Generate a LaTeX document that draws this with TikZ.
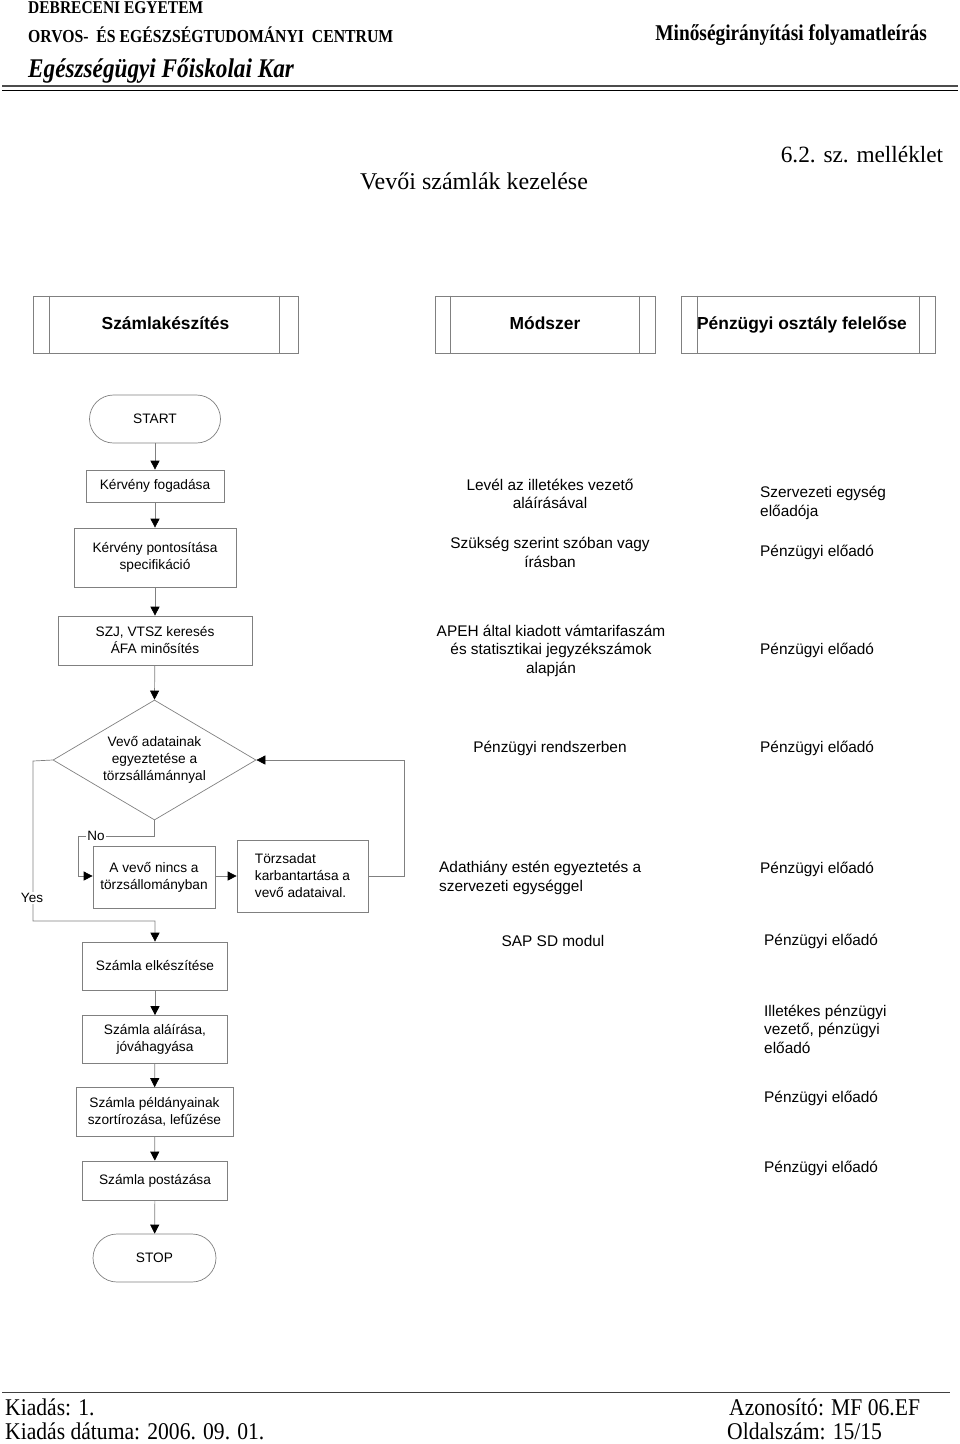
\documentclass[tikz,border=0pt]{standalone}
\usepackage{fontspec}
\setmainfont{Liberation Serif}
\setsansfont{Liberation Sans}
\newfontfamily\condserif[FakeStretch=0.86]{Liberation Serif}
\newfontfamily\footserif[FakeStretch=0.9]{Liberation Serif}
\usetikzlibrary{arrows.meta,shapes.geometric}
\definecolor{linegray}{RGB}{128,128,128}
\begin{document}
\begin{tikzpicture}[x=1pt,y=-1pt,
 box/.style={draw=linegray,line width=0.7pt,fill=white,font=\sffamily\fontsize{13.7}{17}\selectfont,align=center,inner sep=0pt},
 term/.style={box,rounded corners=24pt},
 txt/.style={font=\sffamily\fontsize{15.4}{18.5}\selectfont,align=center,inner sep=0pt},
 rtxt/.style={txt,anchor=west,align=left},
 hdr/.style={draw=linegray,line width=0.7pt,font=\sffamily\bfseries\fontsize{17.4}{20}\selectfont,inner sep=0pt,minimum height=57,text height=12.5pt,text depth=3.5pt},
 flow/.style={draw=linegray,line width=0.7pt,-{Triangle[width=9pt,length=9pt,color=black]}},
 conn/.style={draw=linegray,line width=0.7pt},
 lbl/.style={fill=white,inner sep=1pt,font=\sffamily\fontsize{13.5}{16}\selectfont},
 hd/.style={font=\condserif\bfseries\fontsize{18}{20}\selectfont,inner sep=0pt},
 ft/.style={font=\footserif\fontsize{24}{27}\selectfont,inner sep=0pt}
 ]
\useasboundingbox (0,0) rectangle (960,1444);

% page header
\node[hd,anchor=west] (h1) at (28,8) {DEBRECENI EGYETEM};
\node[hd,anchor=west,font=\condserif\bfseries\fontsize{18.3}{20}\selectfont] (h2) at (28,35) {ORVOS- \ ÉS EGÉSZSÉGTUDOMÁNYI \ CENTRUM};
\node[hd,anchor=east,font=\condserif\bfseries\fontsize{22.5}{24}\selectfont] (h3) at (927,35) {Minőségirányítási folyamatleírás};
\node[hd,anchor=west,font=\condserif\bfseries\itshape\fontsize{27}{30}\selectfont] (h4) at (28,71) {Egészségügyi Főiskolai Kar};
\draw[line width=1.6pt,black!70] (2,86) -- (958,86);
\draw[line width=0.8pt,black] (2,90) -- (958,90);

\node[inner sep=0pt,font=\fontsize{24}{28}\selectfont] (title) at (474,181) {Vevői számlák kezelése};
\node[inner sep=0pt,font=\fontsize{23.3}{28}\selectfont] (mell) at (862,155) {6.2. sz. melléklet};

% column headers
\node[hdr,minimum width=265] (c1) at (165.5,324.5) {Számlakészítés};
\draw[conn] ([xshift=17pt]c1.north west) -- ([xshift=17pt]c1.south west);
\draw[conn] ([xshift=-19pt]c1.north east) -- ([xshift=-19pt]c1.south east);
\node[hdr,minimum width=220] (c2) at (545,324.5) {Módszer};
\draw[conn] ([xshift=16pt]c2.north west) -- ([xshift=16pt]c2.south west);
\draw[conn] ([xshift=-16pt]c2.north east) -- ([xshift=-16pt]c2.south east);
\node[hdr,minimum width=254] (c3) at (808,324.5) {\hspace*{-12pt}Pénzügyi osztály felelőse};
\draw[conn] ([xshift=17pt]c3.north west) -- ([xshift=17pt]c3.south west);
\draw[conn] ([xshift=-16pt]c3.north east) -- ([xshift=-16pt]c3.south east);

% main flow
\node[term,minimum width=131,minimum height=48] (start) at (155,419) {START};
\node[box,minimum width=138,minimum height=32] (k1) at (155,486) {Kérvény fogadása};
\node[box,minimum width=162,minimum height=59] (k2) at (155,557.5) {Kérvény pontosítása\\specifikáció};
\node[box,minimum width=194,minimum height=49] (szj) at (155,640.5) {SZJ, VTSZ keresés\\ÁFA minősítés};
\node[box,shape=diamond,aspect=1.7,minimum width=203,minimum height=120] (dia) at (154.5,760) {Vevő adatainak\\egyeztetése a\\törzsállámánnyal};
\node[box,minimum width=122,minimum height=62] (nincs) at (154,877) {A vevő nincs a\\törzsállományban};
\node[box,minimum width=131,minimum height=72,align=left] (torzs) at (302.5,876) {Törzsadat\\karbantartása a\\vevő adataival.};
\node[box,minimum width=145,minimum height=48] (sz1) at (155,966) {Számla elkészítése};
\node[box,minimum width=145,minimum height=48] (sz2) at (155,1039.5) {Számla aláírása,\\jóváhagyása};
\node[box,minimum width=157,minimum height=49] (sz3) at (154.5,1112) {Számla példányainak\\szortírozása, lefűzése};
\node[box,minimum width=145,minimum height=39] (sz4) at (155,1180.5) {Számla postázása};
\node[term,minimum width=123,minimum height=48] (stop) at (154.5,1258) {STOP};

\draw[flow] (start) -- (k1);
\draw[flow] (k1) -- (k2);
\draw[flow] (k2) -- (szj);
\draw[flow] (szj) -- (dia.north);
\draw[flow] (sz1) -- (sz2);
\draw[flow] (sz2) -- (sz3);
\draw[flow] (sz3) -- (sz4);
\draw[flow] (sz4) -- (stop);

% Yes branch
\coordinate (y1) at (33,761);
\coordinate (y2) at (33,921);
\coordinate (y3) at (155,921);
\draw[flow] (dia.west) -- (y1) -- (y2) -- (y3) -- (sz1.north);
\node[lbl] (yes) at (32,898) {Yes};

% No branch
\coordinate (n1) at (154.5,836);
\coordinate (n2) at (78,836);
\coordinate (n3) at (78,876);
\draw[flow] (dia.south) -- (n1) -- (n2) -- (n3) -- (nincs.west |- n3);
\node[lbl] (no) at (96,836) {No};
\draw[flow] (nincs.east |- torzs.west) -- (torzs.west);
\coordinate (r1) at (404,876);
\coordinate (r2) at (404,760);
\draw[flow] (torzs.east) -- (r1) -- (r2) -- (dia.east);

% method column
\node[txt] (m1) at (550,494) {Levél az illetékes vezető\\aláírásával};
\node[txt] (m2) at (550,552.5) {Szükség szerint szóban vagy\\írásban};
\node[txt] (m3) at (551,650.5) {APEH által kiadott vámtarifaszám\\és statisztikai jegyzékszámok\\alapján};
\node[txt] (m4) at (550,748) {Pénzügyi rendszerben};
\node[rtxt] (m5) at (439,878) {Adathiány estén egyeztetés a\\szervezeti egységgel};
\node[txt] (m6) at (553,941) {SAP SD modul};

% responsible column
\node[rtxt] (p1) at (760,503) {Szervezeti egység\\előadója};
\node[rtxt] (p2) at (760,552) {Pénzügyi előadó};
\node[rtxt] (p3) at (760,650) {Pénzügyi előadó};
\node[rtxt] (p4) at (760,748) {Pénzügyi előadó};
\node[rtxt] (p5) at (760,869) {Pénzügyi előadó};
\node[rtxt] (p6) at (764,941) {Pénzügyi előadó};
\node[rtxt] (p7) at (764,1029) {Illetékes pénzügyi\\vezető, pénzügyi\\előadó};
\node[rtxt] (p8) at (764,1098) {Pénzügyi előadó};
\node[rtxt] (p9) at (764,1168) {Pénzügyi előadó};

% footer
\draw[line width=0.9pt,black!75] (2,1392) -- (950,1392);
\node[ft,anchor=west] (f1) at (5,1407) {Kiadás: 1.};
\node[ft,anchor=west] (f2) at (5,1431) {Kiadás dátuma: 2006. 09. 01.};
\node[ft,anchor=west] (f3) at (729,1407) {Azonosító: MF 06.EF};
\node[ft,anchor=west] (f4) at (727,1431) {Oldalszám: 15/15};
\end{tikzpicture}
\end{document}
